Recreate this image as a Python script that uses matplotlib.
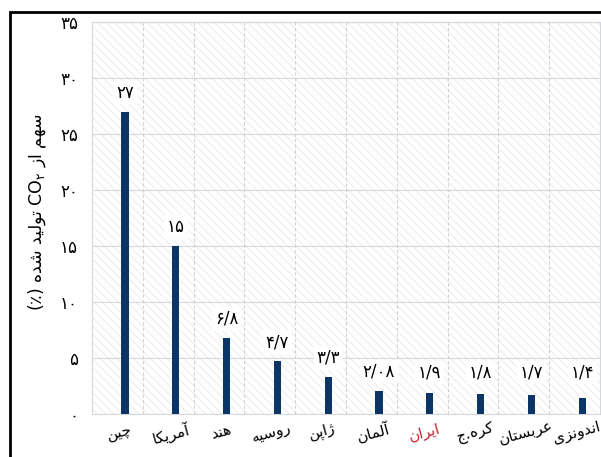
import matplotlib
matplotlib.use('Agg')
import matplotlib.pyplot as plt
from matplotlib.patches import Rectangle

# data
countries = ['چین', 'آمریکا', 'هند', 'روسیه', 'ژاپن', 'آلمان', 'ایران', 'کره.ج', 'عربستان', 'اندونزی']
shares = [27, 15, 6.8, 4.7, 3.3, 2.08, 1.9, 1.8, 1.7, 1.4]
value_labels = ['۲۷', '۱۵', '۶/۸', '۴/۷', '۳/۳', '۲/۰۸', '۱/۹', '۱/۸', '۱/۷', '۱/۴']
yticks = [0, 5, 10, 15, 20, 25, 30, 35]
ytick_labels = ['۰', '۵', '۱۰', '۱۵', '۲۰', '۲۵', '۳۰', '۳۵']

# presentation forms (iso, fin, ini, med) or (iso, fin) for right-joining letters
forms = {
    'ا': ('\uFE8D', '\uFE8E'), 'آ': ('\uFE81', '\uFE82'),
    'ب': ('\uFE8F', '\uFE90', '\uFE91', '\uFE92'),
    'ت': ('\uFE95', '\uFE96', '\uFE97', '\uFE98'),
    'ج': ('\uFE9D', '\uFE9E', '\uFE9F', '\uFEA0'),
    'د': ('\uFEA9', '\uFEAA'), 'ر': ('\uFEAD', '\uFEAE'), 'ز': ('\uFEAF', '\uFEB0'),
    'س': ('\uFEB1', '\uFEB2', '\uFEB3', '\uFEB4'),
    'ش': ('\uFEB5', '\uFEB6', '\uFEB7', '\uFEB8'),
    'ع': ('\uFEC9', '\uFECA', '\uFECB', '\uFECC'),
    'ل': ('\uFEDD', '\uFEDE', '\uFEDF', '\uFEE0'),
    'م': ('\uFEE1', '\uFEE2', '\uFEE3', '\uFEE4'),
    'ن': ('\uFEE5', '\uFEE6', '\uFEE7', '\uFEE8'),
    'ه': ('\uFEE9', '\uFEEA', '\uFEEB', '\uFEEC'),
    'و': ('\uFEED', '\uFEEE'), 'ژ': ('\uFB8A', '\uFB8B'),
    'ی': ('\uFBFC', '\uFBFD', '\uFBFE', '\uFBFF'),
    'ک': ('\uFB8E', '\uFB8F', '\uFB90', '\uFB91'),
    'چ': ('\uFB7A', '\uFB7B', '\uFB7C', '\uFB7D'),
    'پ': ('\uFB56', '\uFB57', '\uFB58', '\uFB59'),
}


def shape(word):
    # join letters and flip to visual order
    out = []
    for i, ch in enumerate(word):
        f = forms.get(ch)
        if f is None:
            out.append(ch)
            continue
        prev = i > 0 and word[i - 1] in forms and len(forms[word[i - 1]]) == 4
        nxt = len(f) == 4 and i + 1 < len(word) and word[i + 1] in forms
        if prev and nxt:
            out.append(f[3])
        elif prev:
            out.append(f[1])
        elif nxt:
            out.append(f[2])
        else:
            out.append(f[0])
    return ''.join(out[::-1])


plt.rcParams['font.family'] = ['DejaVu Sans']
plt.rcParams['hatch.linewidth'] = 0.6

fig = plt.figure(figsize=(6.01, 4.57), dpi=100)
fig.patches.append(Rectangle((10 / 601, -0.1), 1.0, (457 - 12) / 457 + 0.1,
                             transform=fig.transFigure, fill=False,
                             edgecolor='black', linewidth=2.0))

ax = fig.add_axes([92 / 601, (457 - 414) / 457, 508 / 601, 392 / 457])
x = list(range(len(countries)))

ax.add_patch(Rectangle((-0.5, 0), len(countries), 35, facecolor='white',
                       edgecolor='#e8e8e8', hatch='\\\\\\\\', linewidth=0, zorder=0))

bx = [i + 0.15 for i in x]
ax.bar(bx, shares, width=0.14, color='#0b3566', zorder=3)

for xi, v, lab in zip(bx, shares, value_labels):
    ax.text(xi, max(v, 2.0) + 1.7, lab, ha='center', va='center', fontsize=12,
            zorder=4, bbox=dict(facecolor='white', edgecolor='none', pad=2))

ax.set_xlim(-0.5, len(countries) - 0.5)
ax.set_ylim(0, 35)
ax.set_yticks(yticks)
ax.set_yticklabels(ytick_labels, fontsize=12)
ax.set_xticks(x)
ax.set_xticklabels([shape(c) for c in countries], fontsize=11, rotation=15,
                   rotation_mode='anchor', ha='center', va='top')
ax.get_xticklabels()[6].set_color('#c8252f')
ax.tick_params(length=0, pad=10)
ax.tick_params(axis='x', pad=8)

for yv in yticks:
    ax.axhline(yv, color='#d4d8dc', linewidth=0.8, zorder=1)
for b in range(len(countries) - 1):
    ax.axvline(b + 0.5, color='#cfd3d7', linewidth=0.8, linestyle=(0, (3, 2)), zorder=1)
for s in ax.spines.values():
    s.set_color('#d4d8dc')
    s.set_linewidth(0.8)

ylab = '(٪) ' + shape('شده') + ' ' + shape('تولید') + ' CO$_{۲}$ ' + shape('از') + ' ' + shape('سهم')
fig.text(38 / 601, 1 - 212 / 457, ylab, rotation=90, ha='center', va='center', fontsize=12.5)

fig.savefig('out.png', dpi=100)
